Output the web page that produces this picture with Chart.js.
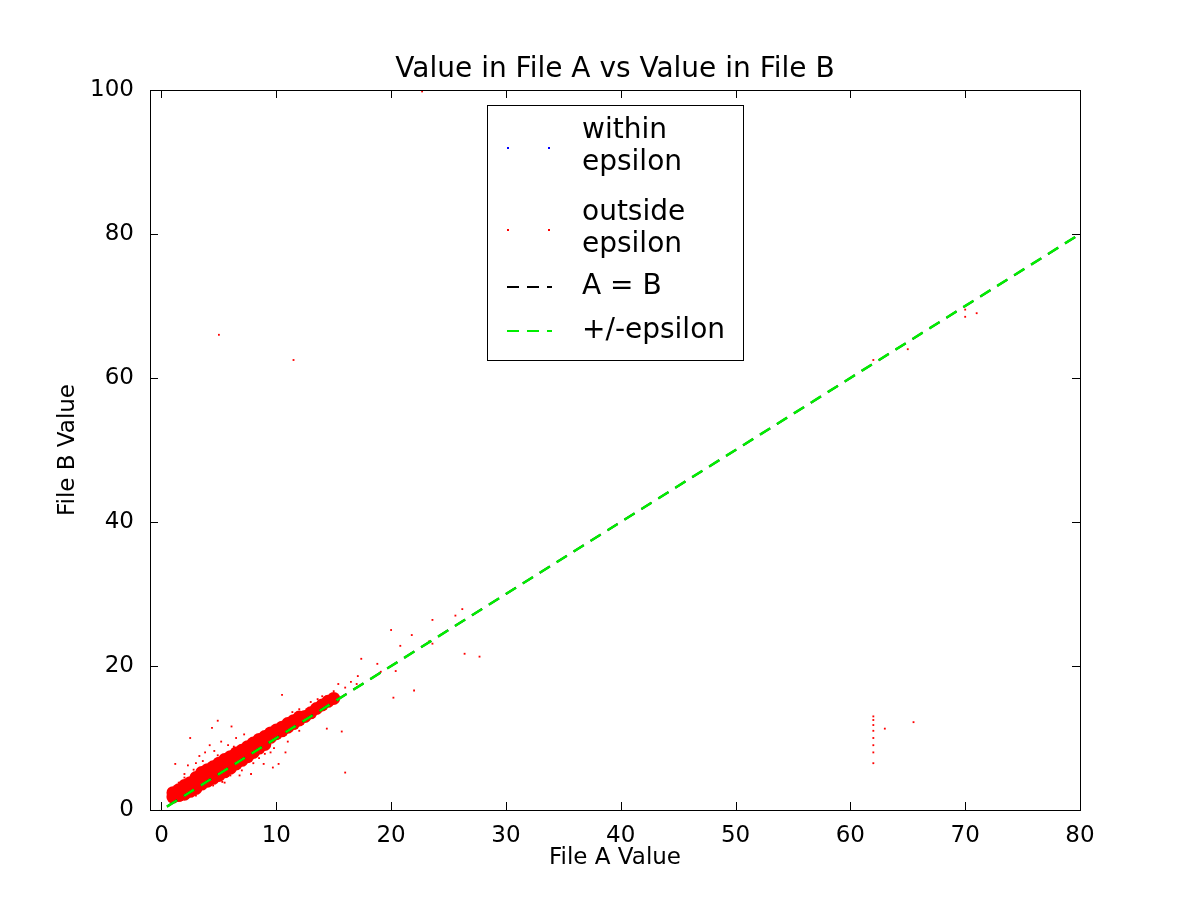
<!DOCTYPE html>
<html>
<head>
<meta charset="utf-8">
<script src="https://cdn.jsdelivr.net/npm/chart.js@4.4.0/dist/chart.umd.min.js"></script>
<style>
  html, body { margin: 0; background: #fff; }
  #wrap { width: 1200px; height: 900px; }
</style>
</head>
<body>
<div id="wrap"><canvas id="scatterChart" width="1200" height="900"></canvas></div>
<script>
// dense core of the cloud along the diagonal
const coreX = [1.0,1.0, 1.5,1.5, 2.0,2.0,2.0, 2.5,2.5,2.5, 3.0,3.0,3.0, 3.5,3.5,3.5, 4.0,4.0,4.0,
  4.5,4.5,4.5, 5.0,5.0,5.0, 5.5,5.5,5.5, 6.0,6.0,6.0, 6.5,6.5,6.5, 7.0,7.0,7.0, 7.5,7.5,7.5,
  8.0,8.0,8.0, 8.5,8.5,8.5, 9.0,9.0,9.0, 9.5,9.5, 10,10, 10.5,10.5, 11,11, 11.5,11.5, 12,12,
  12.5, 13, 13.5, 14, 14.5, 15];
const coreY = [1.8,2.4, 2.0,2.8, 2.6,3.4,2.2, 3.0,3.8,2.6, 3.5,4.5,3.0, 4.0,5.2,3.6, 4.5,5.6,4.0,
  5.0,6.0,4.4, 5.4,6.5,4.8, 6.0,7.0,5.3, 6.5,7.4,5.8, 7.0,7.9,6.4, 7.5,8.3,6.9, 8.0,8.8,7.4,
  8.6,9.3,8.0, 9.1,9.8,8.6, 9.6,10.2,9.1, 10.1,10.7, 10.6,11.1, 11.0,11.5, 11.5,12.0, 12.0,12.4, 12.5,12.9,
  13.0, 13.5, 14.1, 14.6, 15.1, 15.5];

// scattered points outside epsilon
const outX = [20.0,27.7,26.4,16.0,22.0,20.2,14.4,15.7,4.9,2.5,10.5,17.4,10.2,9.7,8.9,1.2,4.4,6.1,
  23.6,26.2,25.6,21.8,20.8,20.4,19.1,17.1,18.8,15.4,23.3,23.6,
  5.0,11.5,22.7,62.0,65.0,70.0,71.0,70.0,
  62.0,62.0,62.0,62.0,62.0,62.0,62.0,62.0,63.0,65.5,
  2.0,2.3,3.0,3.3,3.8,4.2,4.6,5.2,5.8,6.5,7.2,3.0,4.5,6.0,7.0,8.0,8.5,9.0,7.8,6.8,5.5,2.0,1.5,1.2,
  12.0,13.0,14.0,16.0,16.5,17.0,15.0,11.0,12.0,10.8,9.5,2.8,3.6,4.9,5.3,6.3,7.6,8.7,9.8,11.4,13.6];
const outY = [25.0,21.3,21.7,5.2,16.6,15.6,11.3,10.9,12.4,10.0,16.0,21.0,6.4,5.9,6.4,6.4,11.4,11.6,
  26.4,27.9,27.0,24.3,22.8,19.3,19.2,18.6,20.3,17.5,23.4,23.1,
  66.0,62.5,99.8,62.5,64.0,68.5,69.0,69.5,
  6.5,8.0,9.0,10.0,11.0,11.8,12.5,13.0,11.3,12.2,
  5.0,6.2,6.5,7.5,8.0,9.0,8.2,9.5,9.0,10.0,10.5,2.0,3.4,4.8,5.5,6.5,7.2,7.8,5.0,4.8,3.8,4.5,3.8,3.0,
  14.0,15.0,15.8,17.0,17.8,17.5,16.5,9.5,11.0,8.0,8.0,5.6,6.8,7.6,3.9,8.8,9.7,10.6,8.6,13.6,15.4];

const lineX = [-1, 80];
const lineY = [-1, 80];
const xTicks = [0, 10, 20, 30, 40, 50, 60, 70, 80];
const yTicks = [0, 20, 40, 60, 80, 100];

const FONT = 'DejaVu Sans';
const pts = (xs, ys) => xs.map((x, i) => ({ x: x, y: ys[i] }));

const legendItems = [
  { label: ['within', 'epsilon'], kind: 'dot', color: '#0000ff' },
  { label: ['outside', 'epsilon'], kind: 'dot', color: '#ff0000' },
  { label: ['A = B'], kind: 'dash', color: '#000000' },
  { label: ['+/-epsilon'], kind: 'dash', color: '#00ee00' }
];

const mplFrame = {
  id: 'mplFrame',
  afterDraw(chart) {
    const { ctx, chartArea: a, scales } = chart;
    ctx.save();
    ctx.strokeStyle = '#000';
    ctx.lineWidth = 1;
    ctx.strokeRect(a.left + 0.5, a.top + 0.5, a.right - a.left, a.bottom - a.top);
    ctx.beginPath();
    xTicks.forEach(v => {
      const px = Math.round(scales.x.getPixelForValue(v)) + 0.5;
      ctx.moveTo(px, a.bottom); ctx.lineTo(px, a.bottom - 8);
      ctx.moveTo(px, a.top); ctx.lineTo(px, a.top + 8);
    });
    yTicks.forEach(v => {
      const py = Math.round(scales.y.getPixelForValue(v)) + 0.5;
      ctx.moveTo(a.left, py); ctx.lineTo(a.left + 8, py);
      ctx.moveTo(a.right, py); ctx.lineTo(a.right - 8, py);
    });
    ctx.stroke();

    // title and axis titles
    ctx.fillStyle = '#000';
    ctx.font = '28px ' + FONT;
    ctx.textAlign = 'center';
    ctx.textBaseline = 'bottom';
    ctx.fillText('Value in File A vs Value in File B', (a.left + a.right) / 2, a.top - 6);
    ctx.font = '23px ' + FONT;
    ctx.textBaseline = 'middle';
    ctx.fillText('File A Value', (a.left + a.right) / 2, 858);
    ctx.save();
    ctx.translate(68, (a.top + a.bottom) / 2);
    ctx.rotate(-Math.PI / 2);
    ctx.fillText('File B Value', 0, 0);
    ctx.restore();

    // legend box
    const bx = 487, by = 105, bw = 256, bh = 255;
    ctx.fillStyle = '#fff';
    ctx.fillRect(bx, by, bw, bh);
    ctx.strokeRect(bx + 0.5, by + 0.5, bw, bh);
    ctx.font = '28px ' + FONT;
    ctx.textAlign = 'left';
    ctx.textBaseline = 'middle';
    const rows = [{ y: 131, h: 2 }, { y: 213, h: 2 }, { y: 287, h: 1 }, { y: 331, h: 1 }];
    legendItems.forEach((it, i) => {
      const r = rows[i];
      const midY = r.y + (r.h === 2 ? 17 : 0);
      if (it.kind === 'dot') {
        ctx.fillStyle = it.color;
        ctx.fillRect(507, midY - 1, 2, 2);
        ctx.fillRect(548, midY - 1, 2, 2);
      } else {
        ctx.strokeStyle = it.color;
        ctx.lineWidth = 2;
        ctx.setLineDash([12, 8]);
        ctx.beginPath(); ctx.moveTo(507, midY); ctx.lineTo(552, midY); ctx.stroke();
        ctx.setLineDash([]);
      }
      ctx.fillStyle = '#000';
      it.label.forEach((t, j) => ctx.fillText(t, 582, r.y + j * 32));
    });
    ctx.restore();
  }
};

new Chart(document.getElementById('scatterChart'), {
  type: 'scatter',
  data: {
    datasets: [
      { label: 'within epsilon', data: [], backgroundColor: '#0000ff', pointRadius: 1, order: 4 },
      { label: 'outside epsilon core', data: pts(coreX, coreY), backgroundColor: '#ff0000',
        borderWidth: 0, pointRadius: 6.5, pointStyle: 'circle', order: 3 },
      { label: 'outside epsilon', data: pts(outX, outY), backgroundColor: '#ff0000',
        borderWidth: 0, pointRadius: 1.3, pointStyle: 'rect', order: 2 },
      { label: 'A = B', type: 'line', data: pts(lineX, lineY), borderColor: '#000000',
        borderWidth: 2, borderDash: [12, 8], pointRadius: 0, showLine: true, order: 1 },
      { label: '+/-epsilon', type: 'line', data: pts(lineX, lineY), borderColor: '#00ee00',
        borderWidth: 2.5, borderDash: [12, 8], pointRadius: 0, showLine: true, order: 0 }
    ]
  },
  options: {
    responsive: false,
    animation: false,
    devicePixelRatio: 1,
    layout: { padding: { top: 90, right: 120, left: 0, bottom: 0 } },
    plugins: { legend: { display: false }, tooltip: { enabled: false } },
    scales: {
      x: {
        type: 'linear', min: -1, max: 80,
        afterBuildTicks: s => { s.ticks = xTicks.map(v => ({ value: v })); },
        afterFit: s => { s.height = 90; },
        grid: { display: false },
        border: { display: false },
        ticks: { color: '#000', font: { family: FONT, size: 23 }, padding: 4, maxRotation: 0 }
      },
      y: {
        type: 'linear', min: 0, max: 100,
        afterBuildTicks: s => { s.ticks = yTicks.map(v => ({ value: v })); },
        afterFit: s => { s.width = 150; },
        grid: { display: false },
        border: { display: false },
        ticks: { color: '#000', font: { family: FONT, size: 23 }, padding: 8 }
      }
    }
  },
  plugins: [mplFrame]
});
</script>
</body>
</html>
